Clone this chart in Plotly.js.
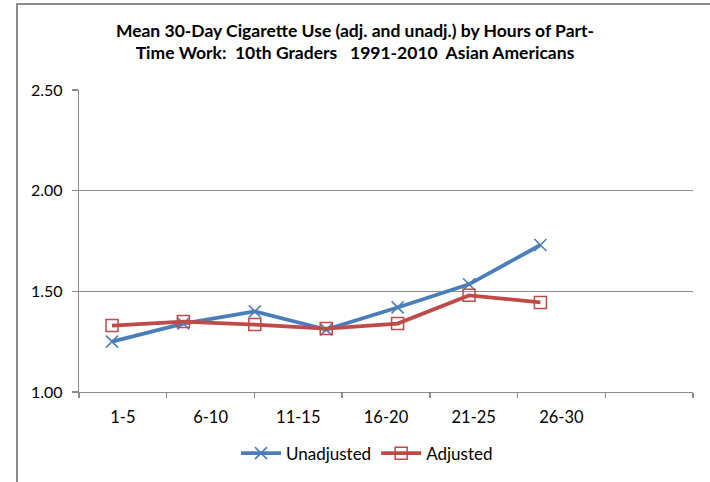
<!DOCTYPE html>
<html>
<head>
<meta charset="utf-8">
<script src="https://cdn.plot.ly/plotly-3.0.1.min.js"></script>
<style>
  html, body { margin: 0; padding: 0; background: #fff; overflow: hidden; }
  #wrap { position: relative; width: 710px; height: 482px; }
  #chart { position: absolute; left: 0; top: 0; width: 710px; height: 482px; }
  #frame { position: absolute; left: 16px; top: 3px; width: 760px; height: 540px;
           border: 2px solid #8c8c8c; box-sizing: border-box; pointer-events: none; }
</style>
</head>
<body>
<div id="wrap">
  <div id="chart"></div>
  <div id="frame"></div>
</div>
<script>
// Data
const categories = ["1-5", "6-10", "11-15", "16-20", "21-25", "26-30", ""];
const unadjusted = [1.25, 1.34, 1.40, 1.31, 1.42, 1.535, 1.73];
const adjusted   = [1.33, 1.35, 1.335, 1.315, 1.34, 1.48, 1.445];
const yTicks = [1.00, 1.50, 2.00, 2.50];
const titleLine1 = "Mean 30-Day Cigarette Use (adj. and unadj.) by Hours of Part-";
const titleLine2 = "Time Work:  10th Graders   1991-2010  Asian Americans";

const idx = categories.map((c, i) => i);
const FONT = "Lato, 'Liberation Sans', Arial, sans-serif";

const traces = [
  {
    // invisible carrier so the category label axis (x) is drawn
    name: "axis", x: idx, y: idx.map(() => null), xaxis: "x", yaxis: "y",
    type: "scatter", mode: "lines", showlegend: false, hoverinfo: "skip",
    line: { width: 0 }
  },
  {
    name: "Unadjusted", x: idx, y: unadjusted, xaxis: "x2", yaxis: "y",
    type: "scatter", mode: "lines+markers",
    line: { color: "#4a7ebb", width: 3.8 },
    marker: { symbol: "x-thin-open", size: 12, color: "#4a7ebb", line: { color: "#4a7ebb", width: 1.6 } }
  },
  {
    name: "Adjusted", x: idx, y: adjusted, xaxis: "x2", yaxis: "y",
    type: "scatter", mode: "lines+markers",
    line: { color: "#be4b48", width: 3.8 },
    marker: { symbol: "square-open", size: 12, color: "#be4b48", line: { color: "#be4b48", width: 1.5 } }
  }
];

const layout = {
  width: 710, height: 482,
  margin: { l: 79, r: 17, t: 90, b: 89 },
  paper_bgcolor: "#ffffff", plot_bgcolor: "#ffffff",
  font: { family: FONT, size: 16, color: "#000000" },
  title: {
    text: titleLine1 + "<br>" + titleLine2,
    font: { family: FONT, size: 17.5, color: "#000000", weight: "bold" },
    x: 0.5, xref: "container", xanchor: "center",
    y: 0.924, yref: "container", yanchor: "middle"
  },
  showlegend: true,
  legend: {
    orientation: "h", x: 0.469, xanchor: "center", y: -0.2, yanchor: "middle",
    font: { family: FONT, size: 17, color: "#000" },
    itemwidth: 40, traceorder: "normal", bgcolor: "rgba(0,0,0,0)"
  },
  xaxis: {
    type: "linear", range: [-0.5, 6.5],
    tickmode: "array", tickvals: idx, ticktext: categories,
    ticks: "", showgrid: false, zeroline: false,
    showline: true, linecolor: "#8c8c8c", linewidth: 1.3,
    ticklabelstandoff: 10,
    tickfont: { family: FONT, size: 16.5, color: "#000" },
    minor: { tick0: -0.5, dtick: 1, ticks: "outside", ticklen: 5, tickcolor: "#8c8c8c", tickwidth: 1.3, showgrid: false },
    fixedrange: true
  },
  xaxis2: {
    type: "linear", overlaying: "x", range: [-0.462, 8.137],
    visible: false, showgrid: false, zeroline: false, fixedrange: true
  },
  yaxis: {
    range: [1.0, 2.5], tickmode: "array", tickvals: yTicks,
    tickformat: ".2f",
    showgrid: true, gridcolor: "#8c8c8c", gridwidth: 1.2,
    showline: true, linecolor: "#8c8c8c", linewidth: 1.3,
    ticks: "outside", ticklen: 6, tickcolor: "#8c8c8c", tickwidth: 1.3,
    zeroline: false, ticklabelstandoff: 6,
    tickfont: { family: FONT, size: 16, color: "#000" },
    fixedrange: true
  }
};

Plotly.newPlot("chart", traces, layout, { displayModeBar: false, staticPlot: true });
</script>
</body>
</html>
